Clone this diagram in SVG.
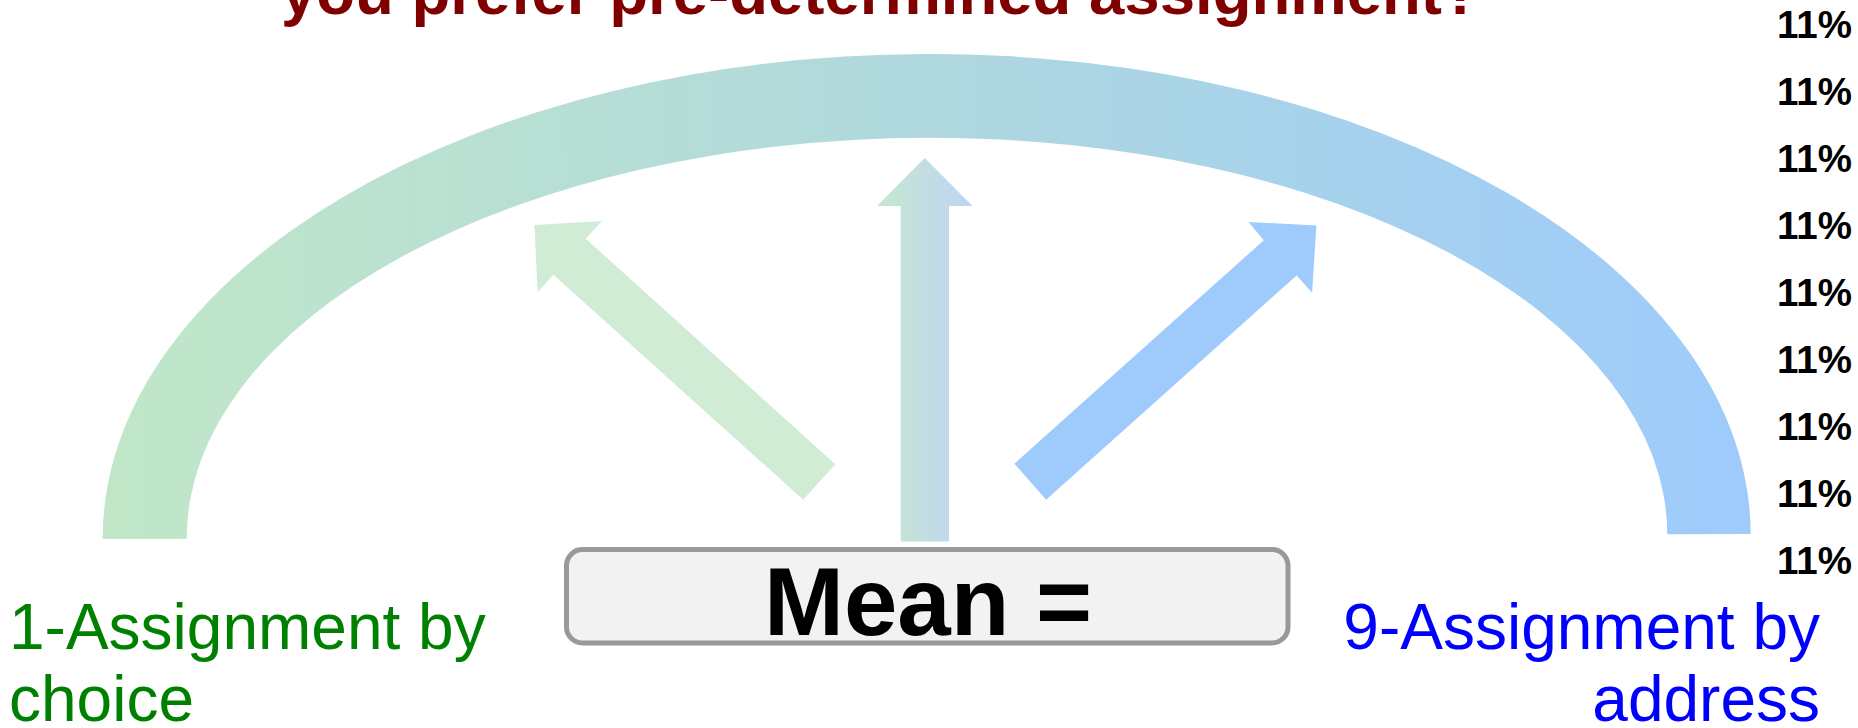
<svg xmlns="http://www.w3.org/2000/svg" width="1858" height="728" viewBox="0 0 1858 728">
  <defs>
    <linearGradient id="arcGrad" gradientUnits="userSpaceOnUse" x1="103" y1="0" x2="1751" y2="0">
      <stop offset="0" stop-color="#c1e7c8"/>
      <stop offset="0.5" stop-color="#afd8de"/>
      <stop offset="1" stop-color="#9ecbfc"/>
    </linearGradient>
    <linearGradient id="midGrad" x1="0" y1="0" x2="1" y2="0">
      <stop offset="0" stop-color="#c5e8cf"/>
      <stop offset="1" stop-color="#c0d3f4"/>
    </linearGradient>
    <style>
      .title { font-family: "Liberation Sans", Arial, sans-serif; font-weight: bold; fill: #800000; }
      .pct { font-family: "Liberation Sans", Arial, sans-serif; font-weight: bold; font-size: 38.5px; fill: #000000; text-anchor: end; }
      .lbl { font-family: "Liberation Sans", Arial, sans-serif; font-size: 64px; }
      .mean { font-family: "Liberation Sans", Arial, sans-serif; font-weight: bold; font-size: 96px; fill: #000000; text-anchor: middle; }
    </style>
  </defs>

  <text class="title" x="281" y="14" font-size="63.5">you prefer pre-determined assignment?</text>

  <g id="arc">
    <path transform="rotate(-0.17 927 536.5)" fill="url(#arcGrad)" d="M 102.7 536.5 A 824 482.5 0 0 1 1750.7 536.5 L 1667.3 536.5 A 740.3 398.8 0 0 0 186.7 536.5 Z"/>
  </g>

  <g id="connectors">
    <polygon id="arrow-left" fill="#d0ecd4" points="534.4,225 601.8,221 585.8,238.7 835.3,464.3 803.2,499.7 553.4,274.7 537.6,292.3"/>
    <polygon id="arrow-mid" fill="url(#midGrad)" points="924.8,158 972.5,206 949,206 949,541.5 900.7,541.5 900.7,206 877,206"/>
    <polygon id="arrow-right" fill="#9fcbfc" points="1248.5,222 1316.4,225.5 1312.1,292.8 1296.6,275.4 1046.1,499.7 1014.4,463.8 1263.8,240.2"/>
  </g>

  <g id="mean-box">
    <rect x="566.5" y="549.5" width="721.5" height="93.5" rx="16" ry="16" fill="#f2f2f2" stroke="#999999" stroke-width="5"/>
    <text class="mean" x="928" y="635">Mean =</text>
  </g>

  <g id="label-left">
    <text class="lbl" fill="#008000" x="9" y="649">1-Assignment by</text>
    <text class="lbl" fill="#008000" x="9" y="721">choice</text>
  </g>

  <g id="label-right">
    <text class="lbl" fill="#0000ff" x="1820" y="649" text-anchor="end">9-Assignment by</text>
    <text class="lbl" fill="#0000ff" x="1820" y="721" text-anchor="end">address</text>
  </g>

  <g id="percentages">
    <text class="pct" x="1852" y="38">11%</text>
    <text class="pct" x="1852" y="105">11%</text>
    <text class="pct" x="1852" y="172">11%</text>
    <text class="pct" x="1852" y="239">11%</text>
    <text class="pct" x="1852" y="306">11%</text>
    <text class="pct" x="1852" y="373">11%</text>
    <text class="pct" x="1852" y="440">11%</text>
    <text class="pct" x="1852" y="507">11%</text>
    <text class="pct" x="1852" y="574">11%</text>
  </g>
</svg>
